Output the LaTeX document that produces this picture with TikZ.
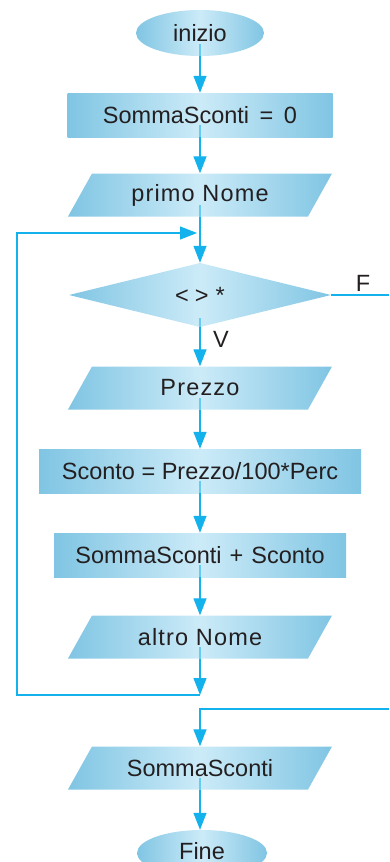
\documentclass[tikz,border=0pt]{standalone}
\usepackage{fontspec}
\setmainfont{Liberation Sans}
\usetikzlibrary{shapes.geometric,arrows.meta,calc}

\definecolor{flowline}{RGB}{20,178,236}
\definecolor{boxedge}{RGB}{128,197,227}
\definecolor{boxmid}{RGB}{204,235,248}
\definecolor{ink}{RGB}{35,31,32}

\newcommand{\wide}[1]{{\addfontfeature{LetterSpace=5}#1}}

\begin{document}
\begin{tikzpicture}[x=1pt,y=-1pt,
  every node/.style={font=\fontsize{23.5}{26}\selectfont, text=ink, inner sep=0pt},
  shadefill/.style={left color=boxedge, right color=boxedge, middle color=boxmid},
  terminal/.style={ellipse, shadefill, minimum width=128pt, minimum height=46pt},
  procbox/.style={rectangle, shadefill, minimum height=44pt},
  iobox/.style={rectangle, minimum width=264pt, minimum height=43pt,
    path picture={\shade[shadefill]
      ([xshift=24pt]path picture bounding box.north west) --
      (path picture bounding box.north east) --
      ([xshift=-24pt]path picture bounding box.south east) --
      (path picture bounding box.south west) -- cycle;}},
  decision/.style={rectangle, minimum width=262pt, minimum height=64pt,
    path picture={\shade[shadefill]
      (path picture bounding box.north) --
      (path picture bounding box.east) --
      (path picture bounding box.south) --
      (path picture bounding box.west) -- cycle;}},
  flow/.style={draw=flowline, line width=1.3pt},
  inner/.style={flow, draw opacity=0.55},
  arr/.style={flow, -{Triangle[length=17pt,width=13pt]}}
]
\useasboundingbox (0,0) rectangle (389,862);

% blocks of the flowchart
\node[terminal] (start) at (200,33) {inizio};
\node[procbox, minimum width=265pt] (init) at (200,115) {SommaSconti\hspace{4pt} = \hspace{4pt}0};
\node[iobox] (first) at (200,195) {\wide{primo Nome}};
\node[decision] (test) at (200,295) {<\hspace{6pt}>\hspace{7pt}*};
\node[iobox] (price) at (200,388) {\wide{Prezzo}};
\node[procbox, minimum width=322pt] (disc) at (200,471) {Sconto = Prezzo/100*Perc};
\node[procbox, minimum width=292pt] (sum) at (200,555) {SommaSconti\hspace{1.5pt} + \hspace{1.5pt}Sconto};
\node[iobox] (next) at (200,637) {\wide{altro Nome}};
\node[iobox] (out) at (200,768) {SommaSconti};
\node[terminal, minimum width=130pt] (stop) at (202,853) {\raisebox{3.5pt}{Fine}};

% branch labels
\node at (363,283) {F};
\node at (221,339) {V};

% junction points
\coordinate (loopin) at (200,233);
\coordinate (loopout) at (200,695);
\coordinate (lb) at (17,695);
\coordinate (lt) at (17,233);
\coordinate (fexit) at (389,295);
\coordinate (fback) at (389,709);
\coordinate (fturn) at (200,709);

% line segments inside the blocks
\draw[inner] ($(start.center)+(0,11)$) -- (start.south);
\draw[inner] ($(init.center)+(0,10)$) -- (init.south);
\draw[inner] ($(first.center)+(0,10)$) -- (first.south);
\draw[inner] ($(test.center)+(0,23)$) -- (test.south);
\draw[inner] ($(price.center)+(0,10)$) -- (price.south);
\draw[inner] ($(disc.center)+(0,10)$) -- (disc.south);
\draw[inner] ($(sum.center)+(0,10)$) -- (sum.south);
\draw[inner] ($(next.center)+(0,10)$) -- (next.south);
\draw[inner] ($(out.center)+(0,10)$) -- (out.south);

% connectors
\draw[arr] (start.south) -- (init.north);
\draw[arr] (init.south) -- (first.north);
\draw[arr] (first.south) -- (test.north);
\draw[arr] (test.south) -- (price.north);
\draw[arr] (price.south) -- (disc.north);
\draw[arr] (disc.south) -- (sum.north);
\draw[arr] (sum.south) -- (next.north);
\draw[arr] (next.south) -- (loopout);
\draw[arr] (loopout) -- (lb) -- (lt) -- ($(loopin)+(-3,0)$);
\draw[flow] (test.east) -- (fexit);
\draw[arr] (fback) -- (fturn) -- (out.north);
\draw[arr] (out.south) -- (out.south |- stop.north);
\end{tikzpicture}
\end{document}
